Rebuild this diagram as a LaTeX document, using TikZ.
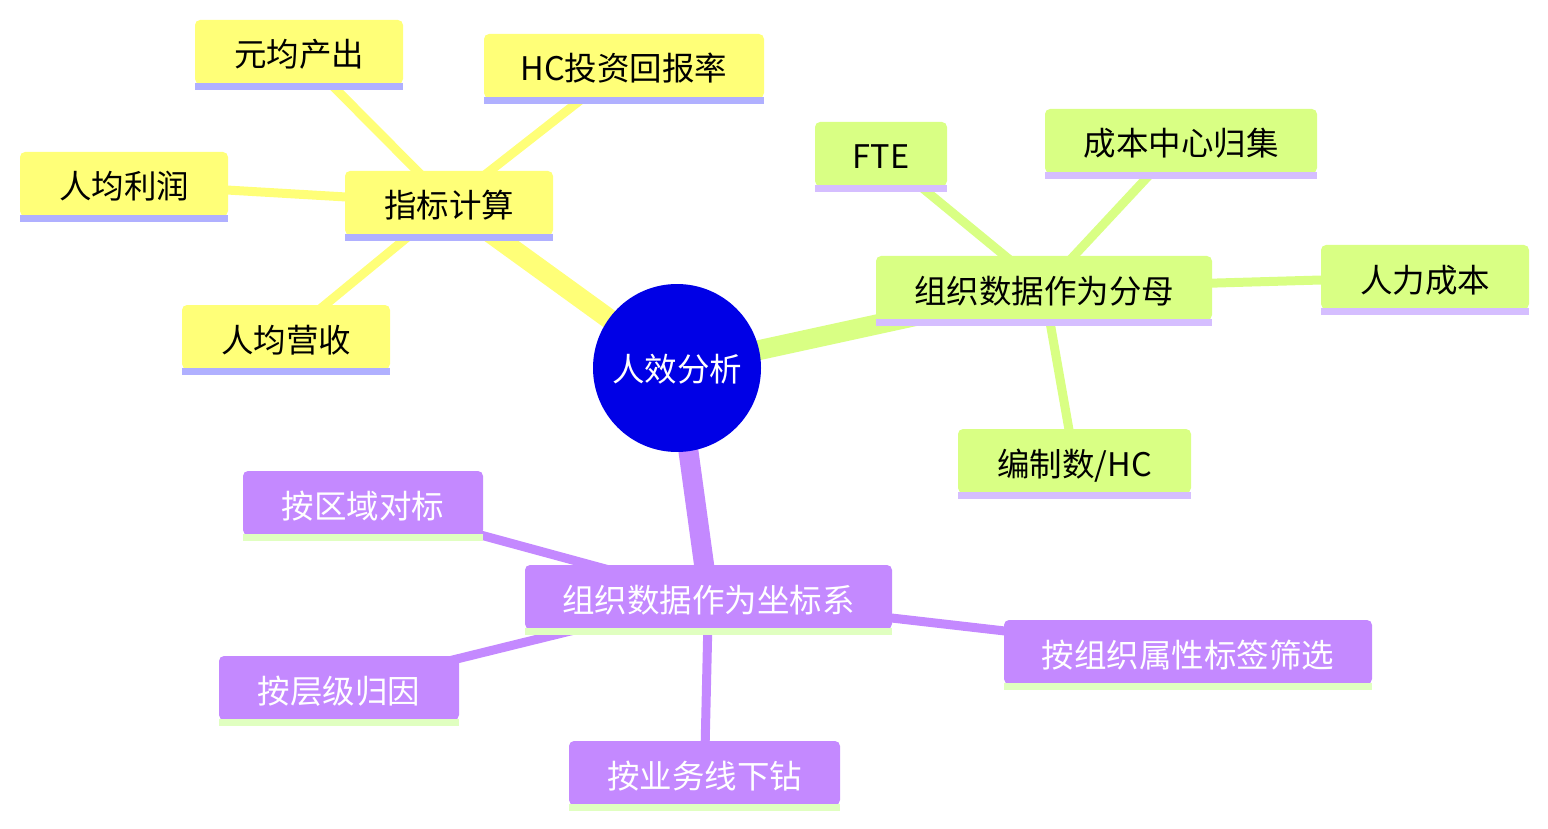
\documentclass[tikz,border=0pt]{standalone}
\usepackage{fontspec}
\newfontfamily\cjk{Noto Sans CJK SC}
\usetikzlibrary{backgrounds}
\definecolor{yel}{RGB}{255,255,120}
\definecolor{yelS}{RGB}{176,176,255}
\definecolor{grn}{RGB}{217,255,132}
\definecolor{grnS}{RGB}{213,190,255}
\definecolor{pur}{RGB}{196,137,255}
\definecolor{purS}{RGB}{224,255,192}
\definecolor{rootblue}{RGB}{0,0,230}
\tikzset{
  mm/.style={rectangle, rounded corners=5pt, inner sep=0pt, minimum height=64pt,
    text height=30pt, text depth=0pt,
    font=\cjk\fontsize{32.5}{36}\selectfont},
  yelnode/.style={mm, fill=yel, text=black},
  grnnode/.style={mm, fill=grn, text=black},
  purnode/.style={mm, fill=pur, text=white},
  rootnode/.style={circle, fill=rootblue, minimum size=168pt, inner sep=0pt, text=white,
    text height=28pt, text depth=2pt,
    font=\cjk\fontsize{32.5}{36}\selectfont},
  thick1/.style={line width=20pt},
  thin2/.style={line width=9pt},
}
\newcommand{\mystripe}[2]{\fill[#2] ([yshift=1pt]#1.south west) rectangle ([yshift=-6pt]#1.south east);}
\begin{document}
\begin{tikzpicture}[x=1pt,y=-1pt]
\useasboundingbox (0,0) rectangle (1548,829);
% root
\node[rootnode] (root) at (677,368) {人效分析};
% yellow
\node[yelnode, minimum width=208pt] (zb) at (449,203) {指标计算};
\node[yelnode, minimum width=208pt] (yj) at (299,52) {元均产出};
\node[yelnode, minimum width=280pt] (hc) at (624,66) {HC投资回报率};
\node[yelnode, minimum width=208pt] (rl) at (124,184) {人均利润};
\node[yelnode, minimum width=208pt] (ry) at (286,337) {人均营收};
% green
\node[grnnode, minimum width=336pt] (fm) at (1044,288) {组织数据作为分母};
\node[grnnode, minimum width=132pt] (fte) at (881,154) {FTE};
\node[grnnode, minimum width=272pt] (cb) at (1181,141) {成本中心归集};
\node[grnnode, minimum width=208pt] (rc) at (1425,277) {人力成本};
\node[grnnode, minimum width=233pt] (bz) at (1074.5,461) {编制数/HC};
% purple
\node[purnode, minimum width=367pt] (zx) at (708.5,597) {组织数据作为坐标系};
\node[purnode, minimum width=240pt] (qy) at (363,503) {按区域对标};
\node[purnode, minimum width=368pt] (sx) at (1188,652) {按组织属性标签筛选};
\node[purnode, minimum width=240pt] (cj) at (339,688) {按层级归因};
\node[purnode, minimum width=271pt] (yw) at (704.5,773) {按业务线下钻};
% stripes
\foreach \n in {zb,yj,hc,rl,ry}{\mystripe{\n}{yelS}}
\foreach \n in {fm,fte,cb,rc,bz}{\mystripe{\n}{grnS}}
\foreach \n in {zx,qy,sx,cj,yw}{\mystripe{\n}{purS}}
\begin{pgfonlayer}{background}
\draw[yel, thick1] (root.center) -- (zb.center);
\draw[grn, thick1] (root.center) -- (fm.center);
\draw[pur, thick1] (root.center) -- (zx.center);
\foreach \n in {yj,hc,rl,ry}{\draw[yel, thin2] (zb.center) -- (\n.center);}
\foreach \n in {fte,cb,rc,bz}{\draw[grn, thin2] (fm.center) -- (\n.center);}
\foreach \n in {qy,sx,cj,yw}{\draw[pur, thin2] (zx.center) -- (\n.center);}
\end{pgfonlayer}
\end{tikzpicture}
\end{document}
